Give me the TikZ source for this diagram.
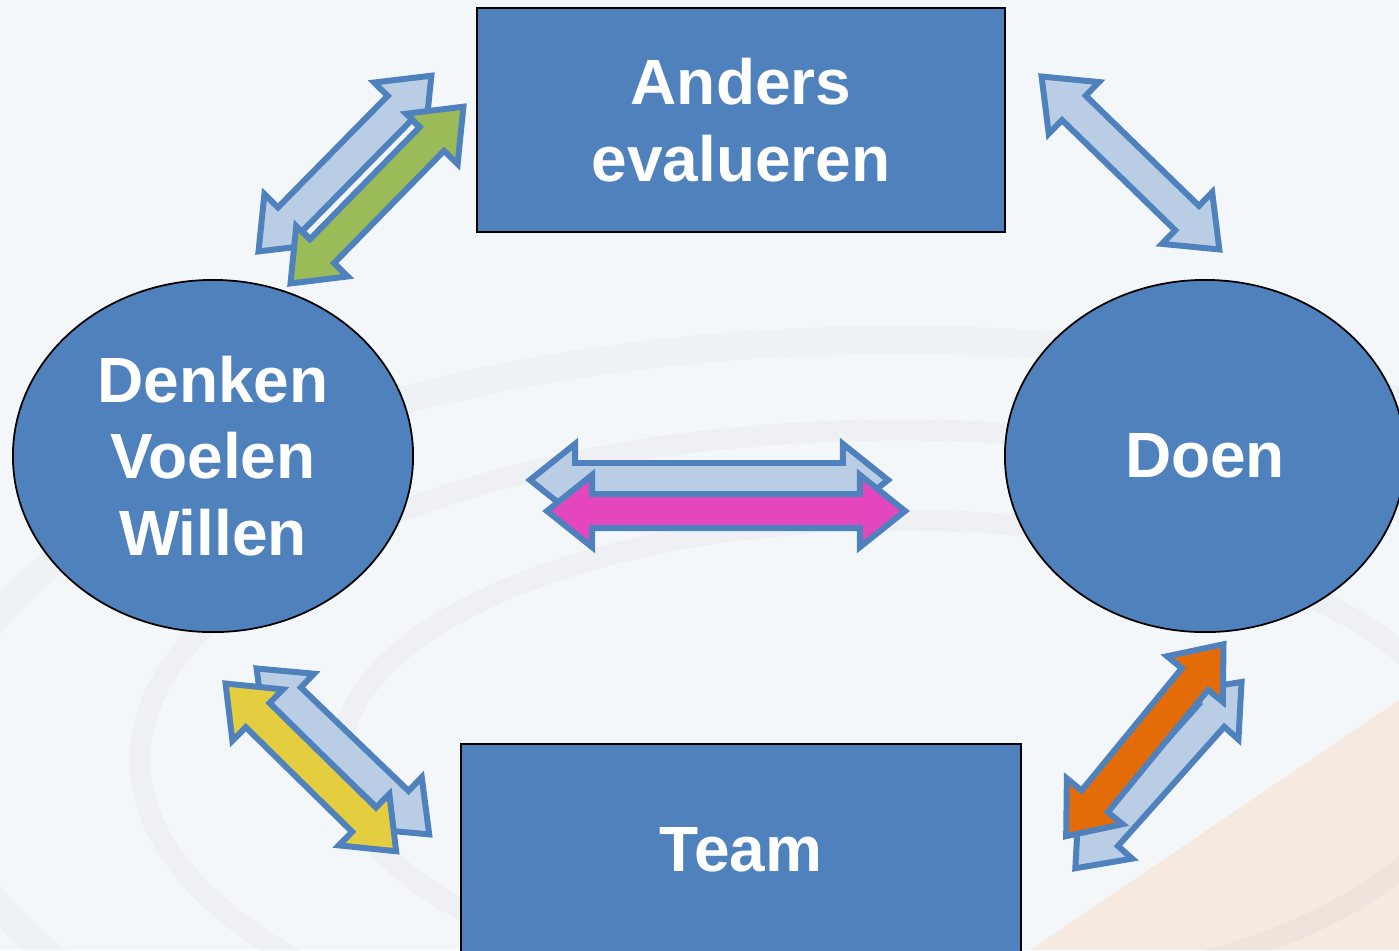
\documentclass[tikz,border=0pt]{standalone}
\usepackage{fontspec}
\setmainfont{Liberation Sans}
\usepackage{tikz}
\usetikzlibrary{shapes.geometric, calc}

\definecolor{boxblue}{RGB}{79,129,189}
\definecolor{paleblue}{RGB}{185,205,229}
\definecolor{leafgreen}{RGB}{155,187,89}
\definecolor{pinkish}{RGB}{228,70,190}
\definecolor{mustard}{RGB}{228,205,62}
\definecolor{rust}{RGB}{227,108,9}
\definecolor{backdrop}{RGB}{244,247,250}
\definecolor{peach}{RGB}{246,233,224}

% block arrow with a head at both ends, from #2 to #3
\newcommand\twoway[3]{%
    \path[arrowbox, #1] let \p1 = (#2), \p2 = (#3),
        \n1 = {atan2(\y2-\y1, \x2-\x1)}, \n2 = {veclen(\x2-\x1, \y2-\y1)}
        in [shift={(\p1)}, rotate=\n1]
        (0.05cm, 0) -- (0.50cm, 0.36cm) -- (0.50cm, 0.17cm)
        -- ({\n2-0.50cm}, 0.17cm) -- ({\n2-0.50cm}, 0.36cm)
        -- ({\n2-0.05cm}, 0) -- ({\n2-0.50cm}, -0.36cm)
        -- ({\n2-0.50cm}, -0.17cm) -- (0.50cm, -0.17cm)
        -- (0.50cm, -0.36cm) -- cycle;
}

\begin{document}
\begin{tikzpicture}[x = 0.01cm, y = -0.01cm,
    arrowbox/.style = {draw=boxblue, line width=1.7pt, line join=miter, fill=paleblue},
    every node/.style = {fill=boxblue, draw=black, line width=0.5pt, text=white, inner sep=0pt,
        align=center, font=\bfseries\fontsize{18.2}{21.8}\selectfont},
    box/.style = {rectangle, minimum width=5.28cm, minimum height=2.24cm},
    oval/.style = {ellipse, minimum width=4cm, minimum height=3.52cm}]
    \useasboundingbox (0, 0) rectangle (1399, 950);
    \clip (0, 0) rectangle (1399, 950);

    % backdrop
    \fill[backdrop] (0, 0) rectangle (1399, 950);
    \fill[peach] (1030, 950) -- (1399, 700) -- (1399, 950) -- cycle;
    \draw[gray, opacity=.05, line width=6pt] (900, 760) ellipse (560 and 240);
    \draw[gray, opacity=.05, line width=6pt] (900, 760) ellipse (760 and 330);
    \draw[gray, opacity=.04, line width=8pt] (900, 760) ellipse (960 and 420);

    \node[box] (anders) at (741, 120)  {Anders\\evalueren};
    \node[box, minimum width=5.60cm, minimum height=2.12cm] (team) at (741, 850) {Team};
    \node[oval] (denken) at (213, 456) {Denken\\Voelen\\Willen};
    \node[oval] (doen) at (1205, 456)  {Doen};

    \coordinate (tl1) at (255, 255);  \coordinate (tl2) at (435, 72);
    \coordinate (tg1) at (287, 287);  \coordinate (tg2) at (467, 103);
    \coordinate (tr1) at (1038, 73);  \coordinate (tr2) at (1223, 253);
    \coordinate (ml1) at (525, 480);  \coordinate (ml2) at (893, 480);
    \coordinate (mp1) at (542, 511);  \coordinate (mp2) at (910, 511);
    \coordinate (bl1) at (253, 665);  \coordinate (bl2) at (433, 838);
    \coordinate (by1) at (222, 680);  \coordinate (by2) at (400, 855);
    \coordinate (br1) at (1072, 872); \coordinate (br2) at (1245, 678);
    \coordinate (bo1) at (1063, 840); \coordinate (bo2) at (1227, 640);

    \twoway{}{tl1}{tl2}
    \twoway{fill=leafgreen}{tg1}{tg2}
    \twoway{}{tr1}{tr2}
    \twoway{}{ml1}{ml2}
    \twoway{fill=pinkish}{mp1}{mp2}
    \twoway{}{bl1}{bl2}
    \twoway{fill=mustard}{by1}{by2}
    \twoway{}{br1}{br2}
    \twoway{fill=rust}{bo1}{bo2}
\end{tikzpicture}
\end{document}
